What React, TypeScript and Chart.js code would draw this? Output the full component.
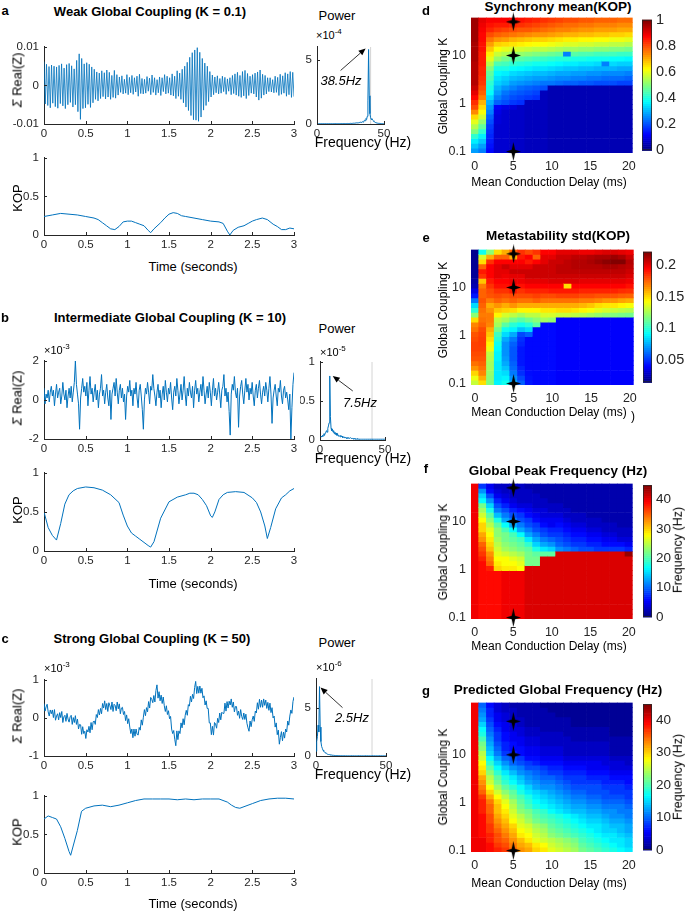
import React, { useEffect, useRef } from "react";
import { Chart, registerables } from "chart.js";

Chart.register(...registerables);

/* ======================= DATA ======================= */
const timeSpanS = 3;

// a: Σ Real(Z), K = 0.1 (units of 1e-3), successive half-cycle extremes
const sumRealA = [
  6.2,-4.8,5.5,-5.2,4.9,-5.8,5.3,-4.6,5.0,-5.5,
  4.8,-5.9,5.2,-4.7,5.6,-5.3,4.5,-6.0,5.4,-5.0,
  5.7,-4.4,5.1,-5.6,4.3,-5.0,6.5,-6.8,8.2,-8.8,
  7.0,-6.0,5.6,-5.8,5.9,-4.9,5.5,-5.7,4.8,-4.5,
  4.2,-3.6,3.5,-4.0,3.2,-3.4,3.8,-2.9,3.3,-3.5,
  4.0,-3.0,3.4,-3.6,2.6,-3.1,3.9,-3.3,2.8,-2.5,
  2.2,-1.8,2.5,-2.2,1.6,-2.0,2.8,-2.4,2.1,-1.9,
  2.6,-2.3,2.0,-1.7,2.4,-2.8,2.9,-2.1,1.8,-2.2,
  1.6,-2.0,2.3,-1.5,1.9,-2.4,2.7,-1.8,2.0,-2.5,
  1.5,-1.9,2.2,-2.6,2.0,-1.6,2.8,-2.2,2.4,-2.0,
  2.0,-2.5,3.0,-2.7,2.4,-3.4,3.8,-2.8,3.2,-3.6,
  4.2,-4.5,5.0,-5.6,6.0,-6.5,7.3,-7.8,8.5,-8.9,
  9.2,-9.0,9.8,-9.3,8.6,-8.2,7.0,-6.4,5.8,-5.2,
  5.0,-4.2,3.6,-3.0,2.7,-2.4,2.2,-1.9,2.5,-2.2,
  1.8,-2.0,2.4,-1.6,2.1,-2.3,1.7,-1.5,2.0,-2.4,
  2.6,-2.1,3.0,-2.5,3.4,-2.8,2.6,-3.1,3.6,-2.7,
  3.9,-3.4,3.1,-2.6,2.4,-2.0,2.8,-2.2,3.2,-3.0,
  3.5,-3.8,4.0,-3.3,2.9,-2.5,2.6,-2.2,2.0,-1.6,
  2.0,-1.7,1.5,-1.9,2.4,-1.8,2.1,-2.6,2.9,-2.3,
  2.5,-2.0,3.3,-2.8,3.0,-2.4,3.6,-3.1,3.4,-2.9,
];

// b: Σ Real(Z), K = 10 (units of 1e-3)
const sumRealB = [
  0.6,-0.2,0.3,0.1,0.5,-0.1,0.4,0.7,0.2,0.5,-0.3,0.3,0.8,0.1,0.4,0.6,-0.2,0.2,0.9,0.3,
  0.0,0.5,-0.4,0.2,0.6,0.1,0.7,-0.1,0.4,0.9,2.0,0.8,0.3,-0.2,-1.5,0.1,0.6,1.1,0.4,0.7,
  0.2,0.9,-0.3,0.5,1.2,0.3,0.6,-0.1,0.4,0.8,0.0,0.5,-0.4,0.3,0.6,1.3,0.2,0.5,-0.2,0.4,
  0.8,0.1,-0.3,0.5,-1.0,0.3,0.6,0.9,0.2,1.1,0.4,-0.2,0.5,0.8,0.1,0.6,-0.1,0.3,-1.0,0.2,
  0.7,0.4,1.0,0.2,0.5,-0.3,0.6,0.3,0.9,0.1,-0.4,0.5,0.8,0.2,-0.5,-1.5,0.0,0.6,0.3,0.9,
  0.4,-0.2,0.7,0.5,1.3,0.6,0.2,-0.3,0.4,0.8,0.1,0.5,-0.4,0.3,0.7,0.0,1.0,0.4,-0.1,0.6,
  0.3,0.9,0.1,-0.5,0.4,0.7,0.2,1.1,0.5,-0.2,0.3,0.8,0.0,0.5,1.2,0.3,-0.3,0.6,0.2,0.9,
  0.4,0.1,0.7,-0.4,0.5,1.0,0.3,0.6,-0.1,0.4,0.8,0.2,1.2,0.5,-0.2,0.3,0.7,0.1,0.9,0.4,
  -0.3,0.5,1.1,0.2,0.6,0.0,0.4,0.9,0.3,-0.4,0.5,0.7,1.3,0.2,0.6,-0.1,0.4,-0.6,-1.8,0.3,
  0.8,0.5,1.2,0.4,0.1,0.6,-1.4,0.2,0.7,1.0,0.3,-0.2,0.5,1.1,0.4,0.8,0.0,0.6,0.3,0.9,
  0.2,-0.3,0.5,0.8,0.1,0.6,1.0,0.3,-0.2,0.4,0.7,0.2,0.9,0.5,-0.1,0.6,1.2,0.3,-1.2,0.1,
  0.5,0.8,0.2,-0.3,0.6,0.4,1.0,0.2,-0.2,0.5,0.7,0.1,0.4,0.0,-0.5,0.3,-2.0,-0.4,0.8,1.4,
];

// c: Σ Real(Z), K = 50 (units of 1e-3)
const sumRealC = [
  0.38,0.18,0.29,0.36, 0.16,0.05,0.21,0.11, 0.21,0.01,0.22,-0.06, 0.05,0.11,-0.05,0.14,
  0.01,0.17,-0.12,0.03, 0.07,-0.09,0.12,-0.03, -0.11,0.03,0.07,-0.17, 0.01,-0.12,0.06,-0.17,
  -0.03,-0.29,-0.17,-0.18, -0.43,-0.23,-0.41,-0.35, -0.54,-0.31,-0.37,-0.22, -0.39,-0.12,-0.31,-0.10,
  -0.08,-0.17,0.09,0.01, 0.22,0.08,0.25,0.11, 0.38,0.26,0.45,0.22, 0.38,0.17,0.40,0.32,
  0.22,0.42,0.17,0.36, 0.33,0.19,0.42,0.24, 0.37,0.11,0.26,0.28, 0.09,0.17,-0.07,0.08,
  -0.15,-0.02,-0.24,-0.41, -0.29,-0.52,-0.29,-0.48, -0.29,-0.43,-0.45,-0.25, -0.32,-0.05,-0.19,0.02,
  0.22,0.06,0.27,0.16, 0.43,0.26,0.54,0.49, 0.40,0.59,0.42,0.72, 0.87,0.52,0.69,0.45,
  0.60,0.38,0.55,0.32, 0.17,0.32,0.09,0.19, -0.02,0.04,-0.29,-0.41, -0.33,-0.56,-0.73,-0.34,
  -0.57,-0.34,-0.41,-0.13, -0.26,-0.02,-0.18,0.07, 0.20,0.07,0.35,0.31, 0.57,0.42,0.62,0.51,
  0.80,0.96,0.64,0.83, 0.65,0.84,0.65,0.78, 0.53,0.58,0.34,0.45, 0.25,0.25,-0.13,-0.13,
  -0.44,-0.22,-0.45,-0.12, -0.16,-0.27,-0.01,-0.12, 0.13,-0.05,0.15,0.12, 0.12,0.39,0.18,0.43,
  0.26,0.44,0.34,0.50, 0.28,0.42,0.16,0.30, 0.30,0.07,0.18,-0.01, 0.22,0.04,-0.04,0.13,
  -0.04,0.10,-0.14,-0.26, -0.35,-0.08,-0.23,-0.05, 0.05,-0.09,0.18,0.13, 0.40,0.23,0.49,0.28,
  0.47,0.28,0.50,0.33, 0.47,0.25,0.41,0.20, 0.39,0.14,0.27,0.00, 0.05,-0.24,-0.13,-0.44,
  -0.32,-0.69,-0.51,-0.36, -0.60,-0.37,-0.53,-0.29, -0.37,-0.08,-0.19,0.05, 0.21,0.12,0.43,0.55,
];

// KOP time courses
const kopATime = [0,0.1,0.2,0.3,0.4,0.5,0.6,0.65,0.7,0.75,0.8,0.85,0.9,0.95,1.0,1.05,1.1,1.15,1.2,1.25,1.28,1.32,1.4,1.45,1.5,1.55,1.6,1.65,1.7,1.8,1.9,2.0,2.1,2.15,2.2,2.23,2.27,2.33,2.4,2.45,2.5,2.55,2.62,2.68,2.75,2.8,2.85,2.9,2.95,3.0];
const kopAVal = [0.24,0.26,0.28,0.27,0.26,0.24,0.22,0.2,0.16,0.12,0.08,0.07,0.11,0.17,0.18,0.18,0.16,0.14,0.12,0.06,0.03,0.08,0.16,0.22,0.27,0.29,0.28,0.25,0.24,0.22,0.2,0.18,0.17,0.15,0.05,0.0,0.06,0.1,0.12,0.15,0.18,0.2,0.22,0.2,0.14,0.11,0.07,0.07,0.09,0.08];

const kopBTime = [0,0.05,0.1,0.15,0.2,0.25,0.3,0.35,0.4,0.5,0.6,0.7,0.8,0.9,0.95,1.0,1.05,1.1,1.15,1.2,1.25,1.28,1.32,1.4,1.5,1.6,1.7,1.75,1.8,1.85,1.9,1.95,2.0,2.02,2.05,2.1,2.15,2.2,2.3,2.4,2.5,2.55,2.6,2.65,2.68,2.72,2.78,2.85,2.9,2.95,3.0];
const kopBVal = [0.5,0.3,0.2,0.14,0.35,0.6,0.72,0.77,0.8,0.82,0.81,0.78,0.72,0.62,0.46,0.32,0.23,0.19,0.15,0.11,0.07,0.05,0.12,0.42,0.63,0.69,0.72,0.74,0.74,0.72,0.66,0.58,0.45,0.43,0.5,0.66,0.72,0.75,0.76,0.75,0.68,0.62,0.5,0.32,0.16,0.3,0.54,0.68,0.72,0.77,0.8];

const kopCTime = [0,0.05,0.1,0.15,0.2,0.25,0.3,0.32,0.35,0.4,0.45,0.5,0.6,0.7,0.8,0.9,1.0,1.1,1.2,1.3,1.4,1.5,1.6,1.7,1.8,1.9,2.0,2.1,2.2,2.25,2.3,2.35,2.4,2.5,2.6,2.7,2.8,2.9,3.0];
const kopCVal = [0.7,0.74,0.72,0.7,0.6,0.45,0.28,0.23,0.35,0.55,0.8,0.84,0.87,0.88,0.86,0.88,0.91,0.94,0.96,0.96,0.96,0.96,0.95,0.96,0.95,0.96,0.96,0.96,0.92,0.88,0.85,0.84,0.86,0.9,0.94,0.96,0.97,0.97,0.96];

// Power spectra, 0.5 Hz bins from 0 to 50 Hz
const freqStepHz = 0.5;
const powerA = [ // ×1e-4
  0.02,0.03,0.02,0.03,0.02,0.02,0.03,0.02,0.02,0.03,
  0.02,0.02,0.03,0.02,0.02,0.03,0.02,0.02,0.03,0.02,
  0.02,0.03,0.02,0.02,0.03,0.02,0.03,0.02,0.02,0.03,
  0.03,0.02,0.03,0.03,0.02,0.03,0.04,0.03,0.03,0.04,
  0.03,0.04,0.03,0.04,0.04,0.03,0.05,0.04,0.04,0.05,
  0.05,0.04,0.06,0.05,0.06,0.07,0.06,0.08,0.07,0.09,
  0.08,0.1,0.09,0.12,0.1,0.14,0.12,0.16,0.18,0.15,
  0.22,0.3,0.26,0.42,0.35,0.6,1.8,5.8,2.2,0.8,
  0.5,0.35,0.42,0.3,0.25,0.2,0.16,0.12,0.1,0.08,
  0.07,0.06,0.05,0.05,0.04,0.04,0.03,0.03,0.03,0.02,0.02,
];
const powerB = [ // ×1e-5
  0.02,0.03,0.05,0.04,0.06,0.05,0.08,0.06,0.09,0.1,
  0.12,0.1,0.15,0.18,0.22,0.82,0.3,0.15,0.12,0.14,
  0.1,0.12,0.08,0.1,0.07,0.09,0.06,0.08,0.05,0.06,
  0.05,0.04,0.06,0.04,0.05,0.03,0.04,0.03,0.04,0.03,
  0.03,0.02,0.03,0.02,0.03,0.02,0.02,0.03,0.02,0.02,
  0.02,0.02,0.01,0.02,0.01,0.02,0.01,0.01,0.02,0.01,
  0.01,0.01,0.01,0.01,0.01,0.01,0.01,0.01,0.01,0.01,
  0.01,0.01,0.01,0.01,0.01,0.01,0.01,0.01,0.01,0.01,
  0.01,0.01,0.01,0.01,0.01,0.01,0.01,0.01,0.01,0.01,
  0.01,0.01,0.01,0.01,0.01,0.01,0.01,0.01,0.01,0.01,0.01,
];
const powerC = [ // ×1e-6
  0.5,1.5,2.0,3.2,2.5,7.2,3.0,1.5,1.0,0.8,
  0.6,0.5,0.4,0.35,0.3,0.25,0.2,0.2,0.15,0.15,
  0.12,0.1,0.1,0.08,0.08,0.07,0.06,0.06,0.05,0.05,
  0.05,0.04,0.04,0.04,0.03,0.03,0.03,0.03,0.03,0.03,
  0.02,0.02,0.02,0.02,0.02,0.02,0.02,0.02,0.02,0.02,
  0.02,0.02,0.02,0.02,0.02,0.02,0.02,0.02,0.02,0.02,
  0.02,0.02,0.02,0.02,0.02,0.02,0.02,0.02,0.02,0.02,
  0.02,0.02,0.02,0.02,0.02,0.02,0.02,0.02,0.02,0.02,
  0.02,0.02,0.02,0.02,0.02,0.02,0.02,0.02,0.02,0.02,
  0.02,0.02,0.02,0.02,0.02,0.02,0.02,0.02,0.02,0.02,0.02,
];
const referenceFreqHz = 40;

// Parameter space
const delaysMs = [0,1,2,3,4,5,6,7,8,9,10,11,12,13,14,15,16,17,18,19,20];
const logKMin = -1.03;
const logKRowStep = 0.1007;
const markerDelayMs = 5;
const markerK = [0.1, 10, 50];

// d: Synchrony mean(KOP) ×100 ; one array per delay, rows from highest K to lowest K
const syncMeanByDelay = [
  [97,97,97,97,97,96,96,96,96,95,95,95,95,95,93,90,87,83,80,74,66,60,55,50,42,36,32,28],
  [90,89,88,87,87,86,86,85,85,85,84,84,83,82,80,78,75,70,66,62,58,52,47,42,36,32,28,25],
  [88,86,84,80,76,72,68,64,60,55,50,47,45,42,40,38,34,30,27,25,22,20,18,17,16,15,14,13],
  [88,85,82,78,73,67,62,57,52,45,40,37,35,33,30,28,25,22,12,10,9,9,8,8,8,8,8,8],
  [88,85,81,77,72,66,60,55,49,44,40,36,33,31,27,24,22,20,10,8,8,8,8,8,8,8,8,8],
  [87,84,80,76,70,65,59,53,47,42,38,34,31,28,25,22,20,18,9,7,7,7,7,7,7,7,7,7],
  [86,83,79,75,69,64,58,52,46,41,37,33,30,27,23,21,19,17,7,7,7,7,7,7,7,7,7,7],
  [85,82,79,74,68,63,57,51,45,40,36,32,29,26,22,20,18,6,6,6,6,6,6,6,6,6,6,6],
  [84,81,78,73,67,62,56,50,44,39,35,31,28,25,21,19,17,6,6,6,6,6,6,6,6,6,6,6],
  [83,80,77,73,67,62,56,49,43,39,35,31,28,24,20,6,6,6,6,6,6,6,6,6,6,6,6,6],
  [82,79,76,72,66,61,55,48,42,38,34,30,27,24,5,5,5,5,5,5,5,5,5,5,5,5,5,5],
  [81,78,75,71,65,60,54,47,41,37,33,29,26,23,5,5,5,5,5,5,5,5,5,5,5,5,5,5],
  [80,77,75,70,64,59,53,25,41,36,32,29,26,22,5,5,5,5,5,5,5,5,5,5,5,5,5,5],
  [80,77,74,70,64,59,53,46,40,36,32,28,25,22,5,5,5,5,5,5,5,5,5,5,5,5,5,5],
  [79,76,73,69,63,58,52,45,40,35,31,28,25,21,5,5,5,5,5,5,5,5,5,5,5,5,5,5],
  [79,76,73,69,63,58,52,45,39,35,31,27,24,21,5,5,5,5,5,5,5,5,5,5,5,5,5,5],
  [78,75,72,68,62,57,51,44,39,34,30,27,24,20,5,5,5,5,5,5,5,5,5,5,5,5,5,5],
  [78,75,72,68,62,57,51,44,39,25,30,26,23,20,5,5,5,5,5,5,5,5,5,5,5,5,5,5],
  [78,75,72,67,61,56,50,44,38,34,30,26,23,20,5,5,5,5,5,5,5,5,5,5,5,5,5,5],
  [77,74,71,67,61,56,50,43,38,33,29,26,23,19,5,5,5,5,5,5,5,5,5,5,5,5,5,5],
  [77,74,71,66,60,55,49,43,37,33,29,25,22,19,5,5,5,5,5,5,5,5,5,5,5,5,5,5],
];

// e: Metastability std(KOP) ×1000 ; one array per delay, rows from highest K to lowest K
const metaStdByDelay = [
  [18,18,19,19,20,20,22,25,35,45,65,85,100,120,150,168,172,178,180,182,182,180,178,172,165,152,140,132],
  [95,135,150,175,190,185,155,170,175,175,178,175,172,170,172,175,180,182,183,183,182,180,178,175,172,168,160,150],
  [120,160,185,195,195,195,190,185,180,178,170,160,165,170,170,168,160,155,150,145,140,130,128,125,125,122,120,118],
  [150,175,195,200,200,200,195,192,185,180,175,165,155,145,130,125,115,105,100,95,92,90,90,88,88,88,88,90],
  [160,175,195,205,200,198,195,192,185,178,172,160,152,135,125,110,95,85,75,70,70,70,72,75,80,85,90,95],
  [175,160,195,200,205,200,198,195,190,180,175,165,150,130,115,100,90,75,65,60,58,58,58,60,62,65,70,75],
  [185,190,195,200,205,200,198,192,185,180,172,160,145,125,110,95,80,55,50,48,45,45,45,45,48,50,55,60],
  [180,195,190,200,205,205,200,195,188,180,172,160,145,130,115,100,85,60,42,42,42,42,42,42,42,43,44,45],
  [185,175,195,205,205,205,200,195,188,182,175,160,145,130,120,110,42,42,42,42,42,42,42,42,42,42,42,42],
  [195,200,200,205,205,205,200,195,188,180,172,160,148,135,125,42,42,42,42,42,42,42,42,42,42,42,42,42],
  [195,200,205,205,205,205,202,195,190,180,172,160,148,135,122,42,42,42,42,42,42,42,42,42,42,42,42,42],
  [200,205,205,208,208,205,202,195,190,182,172,160,150,132,40,40,40,40,40,40,40,40,40,40,40,40,40,40],
  [200,205,208,208,208,205,202,150,190,182,172,160,150,132,40,40,40,40,40,40,40,40,40,40,40,40,40,40],
  [200,208,210,210,208,205,202,195,190,182,172,160,148,130,40,40,40,40,40,40,40,40,40,40,40,40,40,40],
  [198,208,210,210,208,205,200,195,188,180,170,158,145,128,40,40,40,40,40,40,40,40,40,40,40,40,40,40],
  [198,210,212,210,208,205,200,195,188,180,170,155,142,125,40,40,40,40,40,40,40,40,40,40,40,40,40,40],
  [200,212,215,210,208,205,200,195,188,178,168,150,138,122,40,40,40,40,40,40,40,40,40,40,40,40,40,40],
  [202,212,218,212,208,205,200,195,188,178,165,148,135,120,40,40,40,40,40,40,40,40,40,40,40,40,40,40],
  [202,215,220,212,208,205,200,195,188,178,165,148,132,118,40,40,40,40,40,40,40,40,40,40,40,40,40,40],
  [200,212,220,210,208,205,200,195,186,176,162,145,130,116,40,40,40,40,40,40,40,40,40,40,40,40,40,40],
  [198,205,210,208,205,202,198,192,185,175,160,142,128,115,40,40,40,40,40,40,40,40,40,40,40,40,40,40],
];

// f: Global peak frequency (Hz) ; one array per K row from lowest K (0.1) upwards, columns = delays
const peakFreqByK = [
  [40,39,39,39,40,40,40,41,41,41,41,41,41,41,41,41,41,41,41,41,41],
  [40,39,39,39,40,40,40,41,41,41,41,41,41,41,41,41,41,41,41,41,41],
  [40,39,39,39,40,40,40,41,41,41,41,41,41,41,41,41,41,41,41,41,41],
  [40,39,39,39,40,40,40,41,41,41,41,41,41,41,41,41,41,41,41,41,41],
  [40,39,39,39,40,40,40,41,41,41,41,41,41,41,41,41,41,41,41,41,41],
  [40,39,39,39,40,40,40,41,41,41,41,41,41,41,41,41,41,41,41,41,41],
  [40,39,39,39,40,40,40,41,41,41,41,41,41,41,41,41,41,41,41,41,41],
  [40,39,39,39,40,40,40,41,41,41,41,41,41,41,41,41,41,41,41,41,41],
  [40,39,39,39,40,40,40,41,41,41,41,41,41,41,41,41,41,41,41,41,41],
  [40,39,39,39,40,40,40,41,41,41,41,41,41,41,41,41,41,41,41,41,41],
  [40,39,38,30,29,29,28,41,41,41,41,41,41,41,41,41,41,41,41,41,41],
  [40,39,35,29,28,28,27,22,22,41,41,41,41,41,41,41,41,41,41,41,41],
  [40,38,34,28,28,27,26,22,22,41,41,41,41,41,41,41,41,41,41,41,41],
  [40,37,33,27,26,25,24,22,21,21,21,41,41,41,41,41,41,41,41,41,44],
  [40,36,31,26,24,23,22,21,18,16,15,12,11,10,9,9,8,8,8,8,7],
  [40,35,30,25,23,22,21,19,15,13,12,10,9,8,8,7,7,6,6,6,5],
  [40,33,29,24,22,21,20,16,13,11,10,9,8,7,7,6,6,5,5,4,4],
  [40,32,28,23,22,20,17,13,11,9,8,8,7,6,6,5,5,4,4,3,3],
  [40,30,27,23,20,17,13,11,9,8,7,7,6,5,5,4,4,3,3,3,3],
  [40,30,25,21,17,13,11,9,8,6,5,6,5,4,4,3,3,3,3,2,2],
  [40,28,23,18,13,11,9,8,6,5,5,5,4,3,3,3,3,2,2,2,2],
  [40,26,21,14,11,9,8,6,5,4,4,4,3,3,3,2,2,2,2,2,2],
  [40,24,18,11,9,7,6,5,4,4,3,3,3,2,2,2,2,2,2,2,2],
  [40,22,15,9,7,5,4,4,3,3,3,3,2,2,2,2,2,2,2,2,2],
  [40,17,12,7,5,4,3,3,3,3,2,2,2,2,2,2,2,2,2,2,2],
  [40,15,9,5,4,3,3,3,3,2,2,2,2,2,2,2,2,2,2,2,2],
  [40,12,6,4,3,3,3,3,2,2,2,2,2,2,2,2,2,2,2,2,2],
  [40,8,5,3,3,3,3,2,2,2,2,2,2,2,2,2,2,2,2,2,2],
];

// g: Predicted global frequency (Hz) ; one array per K row from lowest K upwards (wider K range)
const predFreqByK = [
  [40,40,39,38,37,35,33,32,30,29,27,26,25,24,22,21,20,19,18,17,16],
  [40,40,39,37,36,34,32,31,29,28,26,25,24,23,21,20,19,18,17,16,15],
  [40,40,38,36,35,33,31,29,27,26,25,24,23,22,20,19,18,17,16,16,15],
  [40,39,38,36,34,32,29,28,26,25,23,22,21,20,19,18,17,16,16,15,14],
  [40,39,37,35,33,31,28,27,25,24,22,21,20,19,18,17,16,15,15,14,13],
  [40,39,37,34,32,30,27,26,24,23,21,20,19,18,17,16,16,15,14,14,13],
  [40,39,36,33,31,28,26,24,22,21,20,19,18,17,16,15,15,14,13,13,12],
  [40,39,36,32,30,27,25,23,21,20,19,18,17,16,15,14,14,13,12,12,11],
  [40,38,35,31,29,26,23,22,20,19,17,16,15,14,14,13,13,12,12,11,11],
  [40,38,35,31,28,25,22,20,18,17,16,15,14,13,13,12,12,11,11,11,10],
  [40,38,34,30,27,24,21,19,17,16,15,14,13,12,12,11,11,10,10,10,9],
  [40,37,32,28,25,22,20,18,16,15,14,13,12,11,11,10,10,9,9,9,8],
  [40,35,30,26,23,21,18,16,15,14,13,12,11,10,10,9,9,9,8,8,8],
  [40,34,28,24,21,19,17,15,13,12,12,11,10,9,9,9,9,8,8,8,7],
  [40,33,26,22,19,17,15,13,12,11,11,10,9,8,8,8,8,7,7,7,6],
  [40,32,25,21,18,16,14,12,11,10,10,9,8,8,8,7,7,7,6,6,6],
  [40,30,23,19,16,14,12,11,10,9,8,8,7,7,7,6,6,6,5,5,5],
  [40,29,21,17,14,12,11,9,9,8,7,7,6,6,6,5,5,5,4,4,4],
  [40,28,19,15,12,10,9,8,7,6,6,6,5,5,5,5,5,4,4,4,3],
  [40,26,17,13,10,9,8,6,6,5,5,5,4,4,4,4,4,4,3,3,3],
  [40,25,15,11,8,7,6,5,5,4,4,4,3,3,3,3,3,3,2,2,2],
  [40,23,14,10,7,6,6,5,5,4,4,4,3,3,3,3,3,3,2,2,2],
  [40,22,13,9,7,6,5,4,4,3,3,3,3,3,3,3,3,3,2,2,2],
  [40,20,12,8,6,5,5,4,4,3,3,3,3,2,2,2,2,2,2,2,2],
  [40,18,11,8,6,5,4,3,3,3,3,3,2,2,2,2,2,2,1,1,1],
  [40,17,10,7,5,4,4,3,3,2,2,2,2,2,2,2,2,2,1,1,1],
  [40,15,9,6,5,4,3,2,2,2,2,2,2,1,1,1,1,1,1,1,1],
  [40,13,8,5,4,3,3,2,2,2,2,2,2,1,1,1,1,1,1,1,1],
  [40,12,7,5,4,3,2,2,2,2,2,1,1,1,1,1,1,1,1,1,1],
  [40,11,7,4,3,3,2,2,2,2,1,1,1,1,1,1,1,1,1,1,1],
  [40,10,6,4,3,2,2,2,2,1,1,1,1,1,1,1,1,1,1,1,1],
];

/* ======================= STYLE ======================= */
const FONT = '"Liberation Sans", Arial, Helvetica, sans-serif';
const LINE_BLUE = "#0072BD";
const AXIS = "#262626";

const jet = (t: number): string => {
  const c = Math.max(0, Math.min(1, t));
  const ch = (o: number) => Math.round(255 * Math.max(0, Math.min(1, 1.5 - Math.abs(4 * c - o))));
  return `rgb(${ch(3)},${ch(2)},${ch(1)})`;
};

type Rect = { x0: number; y0: number; x1: number; y1: number };
type Frame = { rect: Rect; yW: number; xH: number; pt: number; pb: number; pl: number; pr: number; yRight?: boolean };

const inTicks = {
  id: "inTicks",
  afterDraw(chart: any, _a: any, opts: any) {
    if (!opts || !opts.len) return;
    const { ctx, chartArea: a } = chart;
    ctx.save();
    ctx.strokeStyle = AXIS;
    ctx.lineWidth = 1;
    const xs = chart.scales.x;
    const ys = chart.scales.y;
    xs.ticks.forEach((t: any) => {
      const px = Math.round(xs.getPixelForValue(t.value)) + 0.5;
      ctx.beginPath();
      ctx.moveTo(px, a.bottom);
      ctx.lineTo(px, a.bottom - opts.len);
      ctx.stroke();
    });
    ys.ticks.forEach((t: any) => {
      const py = Math.round(ys.getPixelForValue(t.value)) + 0.5;
      ctx.beginPath();
      ctx.moveTo(a.left, py);
      ctx.lineTo(a.left + opts.len, py);
      ctx.stroke();
    });
    ctx.restore();
  },
};

const peakArrow = {
  id: "peakArrow",
  afterDatasetsDraw(chart: any, _a: any, opts: any) {
    if (!opts || opts.x == null) return;
    const { ctx } = chart;
    const tx = chart.scales.x.getPixelForValue(opts.x) + opts.tipDx;
    const ty = chart.scales.y.getPixelForValue(opts.y) + opts.tipDy;
    const sx = tx + opts.tailDx;
    const sy = ty + opts.tailDy;
    const ang = Math.atan2(ty - sy, tx - sx);
    const hl = 7;
    const hw = 3;
    ctx.save();
    ctx.strokeStyle = "#000";
    ctx.fillStyle = "#000";
    ctx.lineWidth = 0.8;
    ctx.beginPath();
    ctx.moveTo(sx, sy);
    ctx.lineTo(tx - hl * Math.cos(ang), ty - hl * Math.sin(ang));
    ctx.stroke();
    ctx.beginPath();
    ctx.moveTo(tx, ty);
    ctx.lineTo(tx - hl * Math.cos(ang) + hw * Math.sin(ang), ty - hl * Math.sin(ang) - hw * Math.cos(ang));
    ctx.lineTo(tx - hl * Math.cos(ang) - hw * Math.sin(ang), ty - hl * Math.sin(ang) + hw * Math.cos(ang));
    ctx.closePath();
    ctx.fill();
    ctx.restore();
  },
};

const colorbarFill = {
  id: "colorbarFill",
  beforeDatasetsDraw(chart: any, _a: any, opts: any) {
    if (!opts || opts.vmin == null) return;
    const { ctx, chartArea: a } = chart;
    const ys = chart.scales.y;
    const n = 64;
    ctx.save();
    for (let i = 0; i < n; i++) {
      const v0 = opts.vmin + ((opts.vmax - opts.vmin) * i) / n;
      const v1 = opts.vmin + ((opts.vmax - opts.vmin) * (i + 1)) / n;
      const p0 = ys.getPixelForValue(v0);
      const p1 = ys.getPixelForValue(v1);
      ctx.fillStyle = jet((i + 0.5) / n);
      ctx.fillRect(a.left, p1, a.right - a.left, p0 - p1 + 0.6);
    }
    ctx.strokeStyle = AXIS;
    ctx.lineWidth = 0.8;
    ctx.strokeRect(a.left + 0.5, a.top + 0.5, a.right - a.left - 1, a.bottom - a.top - 1);
    ctx.restore();
  },
};

function ChartCanvas({ frame, build }: { frame: Frame; build: () => any }) {
  const ref = useRef<HTMLCanvasElement>(null);
  const { rect, yW, xH, pt, pb, pl, pr, yRight } = frame;
  const w = Math.round(pl + yW + (rect.x1 - rect.x0) + pr);
  const h = Math.round(pt + (rect.y1 - rect.y0) + xH + pb);
  const left = rect.x0 - pl - (yRight ? 0 : yW);
  const top = rect.y0 - pt;
  useEffect(() => {
    const cfg = build();
    cfg.options = cfg.options || {};
    cfg.options.animation = false;
    cfg.options.responsive = false;
    cfg.options.maintainAspectRatio = false;
    cfg.options.devicePixelRatio = 1;
    cfg.options.layout = { padding: { left: pl, right: pr, top: pt, bottom: pb } };
    const chart = new Chart(ref.current as HTMLCanvasElement, cfg);
    return () => chart.destroy();
  }, []);
  return <canvas ref={ref} width={w} height={h} style={{ position: "absolute", left, top, width: w, height: h }} />;
}

function axis(o: {
  min: number; max: number; ticks: number[]; fmt?: (v: number) => string; size: number; pad: number;
  fit: (s: any) => void; position?: string; border?: boolean; display?: boolean;
}) {
  return {
    type: "linear",
    position: o.position,
    display: o.display === false ? false : true,
    min: o.min,
    max: o.max,
    offset: false,
    afterBuildTicks: (s: any) => { s.ticks = o.ticks.map((v) => ({ value: v })); },
    afterFit: o.fit,
    grid: { display: false, drawTicks: false },
    border: { display: o.border !== false, color: AXIS, width: 1 },
    ticks: {
      color: AXIS,
      font: { family: FONT, size: o.size },
      padding: o.pad,
      autoSkip: false,
      maxRotation: 0,
      minRotation: 0,
      callback: (v: number) => (o.fmt ? o.fmt(v) : String(v)),
    },
  };
}

const timeTicks = [0, 0.5, 1, 1.5, 2, 2.5, 3];
const lineFrame = (r: Rect): Frame => ({ rect: r, yW: 40, xH: 18, pt: 8, pb: 2, pl: 2, pr: 8 });
const powFrame = (r: Rect): Frame => ({ rect: r, yW: 20, xH: 18, pt: 8, pb: 2, pl: 0, pr: 10 });

function timeSeries(values: number[]) {
  const n = values.length;
  return values.map((v, i) => ({ x: (i * timeSpanS) / (n - 1), y: v }));
}

function lineConfig(f: Frame, points: { x: number; y: number }[], ymin: number, ymax: number, yTicks: number[], yFmt?: (v: number) => string, width = 1) {
  return () => ({
    type: "line",
    data: { datasets: [{ data: points, borderColor: LINE_BLUE, borderWidth: width, pointRadius: 0, tension: 0, fill: false }] },
    plugins: [inTicks],
    options: {
      plugins: { legend: { display: false }, tooltip: { enabled: false }, inTicks: { len: 3 } },
      scales: {
        x: axis({ min: 0, max: timeSpanS, ticks: timeTicks, size: 11.5, pad: 3, fit: (s: any) => { s.height = f.xH; } }),
        y: axis({ min: ymin, max: ymax, ticks: yTicks, fmt: yFmt, size: 11.5, pad: 5, fit: (s: any) => { s.width = f.yW; } }),
      },
    },
  });
}

function powerConfig(f: Frame, power: number[], ymax: number, yTicks: number[], arrow: any) {
  return () => {
    const pts = power.map((v, i) => ({ x: i * freqStepHz, y: v }));
    let mi = 0;
    power.forEach((v, i) => { if (v > power[mi]) mi = i; });
    return {
      type: "line",
      data: {
        datasets: [
          { data: pts, borderColor: LINE_BLUE, borderWidth: 1, pointRadius: 0, tension: 0, order: 0 },
          { data: [{ x: referenceFreqHz, y: 0 }, { x: referenceFreqHz, y: ymax }], borderColor: "#d4d4d4", borderWidth: 1, pointRadius: 0, order: 1 },
        ],
      },
      plugins: [inTicks, peakArrow],
      options: {
        plugins: {
          legend: { display: false }, tooltip: { enabled: false }, inTicks: { len: 3 },
          peakArrow: { x: mi * freqStepHz, y: power[mi], ...arrow },
        },
        scales: {
          x: axis({ min: 0, max: 50, ticks: [0, 50], size: 11.5, pad: 3, fit: (s: any) => { s.height = f.xH; } }),
          y: axis({ min: 0, max: ymax, ticks: yTicks, size: 11.5, pad: 5, fit: (s: any) => { s.width = f.yW; } }),
        },
      },
    };
  };
}

function makeStar(): HTMLCanvasElement {
  const c = document.createElement("canvas");
  c.width = 15;
  c.height = 19;
  const ctx = c.getContext("2d") as CanvasRenderingContext2D;
  const cx = 7.5, cy = 9.5, i = 1.7;
  ctx.fillStyle = "#000";
  ctx.beginPath();
  ctx.moveTo(cx, 0);
  ctx.lineTo(cx + i, cy - i);
  ctx.lineTo(15, cy);
  ctx.lineTo(cx + i, cy + i);
  ctx.lineTo(cx, 19);
  ctx.lineTo(cx - i, cy + i);
  ctx.lineTo(0, cy);
  ctx.lineTo(cx - i, cy - i);
  ctx.closePath();
  ctx.fill();
  return c;
}

function heatConfig(f: Frame, valueAt: (c: number, r: number) => number, rows: number, vmin: number, vmax: number) {
  return () => {
    const maxLog = logKMin + rows * logKRowStep;
    const pts: any[] = [];
    const cols: string[] = [];
    delaysMs.forEach((d, c) => {
      for (let r = 0; r < rows; r++) {
        const lo = logKMin + r * logKRowStep;
        pts.push({ x: d, y: [lo, lo + logKRowStep] });
        cols.push(jet((valueAt(c, r) - vmin) / (vmax - vmin)));
      }
    });
    const star = makeStar();
    return {
      type: "bar",
      data: {
        datasets: [
          { type: "scatter", data: markerK.map((k) => ({ x: markerDelayMs, y: Math.log10(k) })), pointStyle: star, pointRadius: 8, clip: false, order: 0 },
          { type: "bar", data: pts, backgroundColor: cols, borderWidth: 0, barPercentage: 1, categoryPercentage: 1, grouped: false, order: 1 },
        ],
      },
      options: {
        plugins: { legend: { display: false }, tooltip: { enabled: false } },
        scales: {
          x: axis({ min: -0.5, max: 20.5, ticks: [0, 5, 10, 15, 20], size: 12.5, pad: 6, border: false, fit: (s: any) => { s.height = f.xH; } }),
          y: axis({ min: logKMin, max: maxLog, ticks: [-1, 0, 1], size: 12.5, pad: 5, border: false, fmt: (v: number) => String(Math.round(Math.pow(10, v) * 10) / 10), fit: (s: any) => { s.width = f.yW; } }),
        },
      },
    };
  };
}

function colorbarConfig(f: Frame, vmin: number, vmax: number, ticks: number[], size: number) {
  return () => ({
    type: "line",
    data: { datasets: [{ data: [], borderWidth: 0, pointRadius: 0 }] },
    plugins: [colorbarFill],
    options: {
      plugins: { legend: { display: false }, tooltip: { enabled: false }, colorbarFill: { vmin, vmax } },
      scales: {
        x: axis({ min: 0, max: 1, ticks: [], size: 10, pad: 0, display: false, fit: (s: any) => { s.height = 0; } }),
        y: axis({ min: vmin, max: vmax, ticks, size, pad: 4, position: "right", border: false, fit: (s: any) => { s.width = f.yW; } }),
      },
    },
  });
}

/* ======================= LAYOUT ======================= */
const fr = {
  aTs: lineFrame({ x0: 44, y0: 43, x1: 294, y1: 124 }),
  aPow: powFrame({ x0: 317, y0: 43, x1: 384, y1: 124 }),
  aKop: lineFrame({ x0: 44, y0: 154, x1: 294, y1: 235 }),
  bTs: lineFrame({ x0: 44, y0: 357, x1: 294, y1: 439 }),
  bPow: powFrame({ x0: 320, y0: 358, x1: 385, y1: 440 }),
  bKop: lineFrame({ x0: 44, y0: 469, x1: 294, y1: 551 }),
  cTs: lineFrame({ x0: 44, y0: 676, x1: 294, y1: 756 }),
  cPow: powFrame({ x0: 316, y0: 675, x1: 386, y1: 756 }),
  cKop: lineFrame({ x0: 44, y0: 792, x1: 294, y1: 873 }),
};
const hmFrame = (r: Rect): Frame => ({ rect: r, yW: 30, xH: 24, pt: 12, pb: 2, pl: 0, pr: 8 });
const cbFrame = (r: Rect): Frame => ({ rect: r, yW: 34, xH: 0, pt: 10, pb: 10, pl: 2, pr: 2, yRight: true });
const hm = {
  d: hmFrame({ x0: 471, y0: 17, x1: 634, y1: 153 }),
  e: hmFrame({ x0: 471, y0: 249, x1: 635, y1: 385 }),
  f: hmFrame({ x0: 471, y0: 483, x1: 634, y1: 619 }),
  g: hmFrame({ x0: 471, y0: 702, x1: 634, y1: 852 }),
};
const cb = {
  d: cbFrame({ x0: 642, y0: 17, x1: 652, y1: 153 }),
  e: cbFrame({ x0: 643, y0: 249, x1: 652, y1: 385 }),
  f: cbFrame({ x0: 643, y0: 483, x1: 652, y1: 619 }),
  g: cbFrame({ x0: 643, y0: 702, x1: 652, y1: 852 }),
};

function T(p: { x: number; y: number; children: any; size?: number; bold?: boolean; italic?: boolean; rot?: boolean; left?: boolean }) {
  const tr = (p.left ? "translate(0,-50%)" : "translate(-50%,-50%)") + (p.rot ? " rotate(-90deg)" : "");
  return (
    <div style={{ position: "absolute", left: p.x, top: p.y, transform: tr, fontSize: p.size || 13, fontWeight: p.bold ? 700 : 400, fontStyle: p.italic ? "italic" : "normal", whiteSpace: "nowrap", lineHeight: 1, color: "#000" }}>
      {p.children}
    </div>
  );
}

const Exp = ({ x, y, e }: { x: number; y: number; e: string }) => (
  <T x={x} y={y} size={11} left>
    ×10<sup style={{ fontSize: 8, verticalAlign: 5 }}>{e}</sup>
  </T>
);

const SumReal = () => (<span><i>Σ</i> Real(Z)</span>);

export default function App() {
  const yFmtA = (v: number) => String(v / 1000);
  const topFirst = (cols: number[][], rows: number) => (c: number, r: number) => cols[c][rows - 1 - r];
  const byRow = (rowsArr: number[][]) => (c: number, r: number) => rowsArr[r][c];
  return (
    <div style={{ position: "absolute", left: 0, top: 0, width: 685, height: 912, background: "#fff", fontFamily: FONT, overflow: "hidden" }}>
      {/* ---------- a ---------- */}
      <T x={5} y={10} bold>a</T>
      <T x={150} y={11} bold>Weak Global Coupling (K = 0.1)</T>
      <ChartCanvas frame={fr.aTs} build={lineConfig(fr.aTs, timeSeries(sumRealA), -10, 10, [-10, 0, 10], yFmtA, 0.8)} />
      <T x={17} y={80} rot><SumReal /></T>
      <T x={337} y={15}>Power</T>
      <Exp x={316} y={34} e="-4" />
      <ChartCanvas frame={fr.aPow} build={powerConfig(fr.aPow, powerA, 6, [0, 5], { tipDx: -3, tipDy: -1, tailDx: -25, tailDy: 22 })} />
      <T x={341} y={80} italic>38.5Hz</T>
      <T x={363} y={142} size={14}>Frequency (Hz)</T>
      <ChartCanvas frame={fr.aKop} build={lineConfig(fr.aKop, kopATime.map((t, i) => ({ x: t, y: kopAVal[i] })), 0, 1, [0, 0.5, 1])} />
      <T x={17} y={198} rot>KOP</T>
      <T x={193} y={266}>Time (seconds)</T>

      {/* ---------- b ---------- */}
      <T x={5} y={317} bold>b</T>
      <T x={170} y={317} bold>Intermediate Global Coupling (K = 10)</T>
      <Exp x={44} y={349} e="-3" />
      <ChartCanvas frame={fr.bTs} build={lineConfig(fr.bTs, timeSeries(sumRealB), -2, 2, [-2, 0, 2])} />
      <T x={17} y={398} rot><SumReal /></T>
      <T x={337} y={328}>Power</T>
      <Exp x={320} y={351} e="-5" />
      <ChartCanvas frame={fr.bPow} build={powerConfig(fr.bPow, powerB, 1, [0, 0.5, 1], { tipDx: 3, tipDy: 0, tailDx: 20, tailDy: 15 })} />
      <T x={360} y={402} italic>7.5Hz</T>
      <T x={363} y={458} size={14}>Frequency (Hz)</T>
      <ChartCanvas frame={fr.bKop} build={lineConfig(fr.bKop, kopBTime.map((t, i) => ({ x: t, y: kopBVal[i] })), 0, 1, [0, 0.5, 1])} />
      <T x={17} y={510} rot>KOP</T>
      <T x={193} y={583}>Time (seconds)</T>

      {/* ---------- c ---------- */}
      <T x={5} y={638} bold>c</T>
      <T x={152} y={638} bold>Strong Global Coupling (K = 50)</T>
      <Exp x={44} y={667} e="-3" />
      <ChartCanvas frame={fr.cTs} build={lineConfig(fr.cTs, timeSeries(sumRealC), -1, 1, [-1, 0, 1])} />
      <T x={17} y={716} rot><SumReal /></T>
      <T x={337} y={642}>Power</T>
      <Exp x={316} y={666} e="-6" />
      <ChartCanvas frame={fr.cPow} build={powerConfig(fr.cPow, powerC, 8, [0, 5], { tipDx: 1, tipDy: 1, tailDx: 22, tailDy: 20 })} />
      <T x={352} y={717} italic>2.5Hz</T>
      <T x={363} y={774} size={14}>Frequency (Hz)</T>
      <ChartCanvas frame={fr.cKop} build={lineConfig(fr.cKop, kopCTime.map((t, i) => ({ x: t, y: kopCVal[i] })), 0, 1, [0, 0.5, 1])} />
      <T x={17} y={832} rot>KOP</T>
      <T x={193} y={903}>Time (seconds)</T>

      {/* ---------- d ---------- */}
      <T x={426} y={10} bold>d</T>
      <T x={558} y={7} bold size={13.5}>Synchrony mean(KOP)</T>
      <ChartCanvas frame={hm.d} build={heatConfig(hm.d, (c, r) => topFirst(syncMeanByDelay, 28)(c, r) / 100, 28, 0, 1)} />
      <ChartCanvas frame={cb.d} build={colorbarConfig(cb.d, 0, 1, [0, 0.2, 0.4, 0.6, 0.8, 1], 14.5)} />
      <T x={443} y={86} rot size={12}>Global Coupling K</T>
      <T x={549} y={182} size={12}>Mean Conduction Delay (ms)</T>

      {/* ---------- e ---------- */}
      <T x={426} y={237} bold>e</T>
      <T x={558} y={236} bold size={13.5}>Metastability std(KOP)</T>
      <ChartCanvas frame={hm.e} build={heatConfig(hm.e, (c, r) => topFirst(metaStdByDelay, 28)(c, r) / 1000, 28, 0.015, 0.2205)} />
      <ChartCanvas frame={cb.e} build={colorbarConfig(cb.e, 0.015, 0.2205, [0.05, 0.1, 0.15, 0.2], 14.5)} />
      <T x={443} y={310} rot size={12}>Global Coupling K</T>
      <T x={549} y={412} size={12}>Mean Conduction Delay (ms)</T>
      <T x={633} y={416} size={12}>)</T>

      {/* ---------- f ---------- */}
      <T x={426} y={468} bold>f</T>
      <T x={558} y={471} bold size={13.5}>Global Peak Frequency (Hz)</T>
      <ChartCanvas frame={hm.f} build={heatConfig(hm.f, byRow(peakFreqByK), 28, 0, 45)} />
      <ChartCanvas frame={cb.f} build={colorbarConfig(cb.f, 0, 45, [0, 10, 20, 30, 40], 13.5)} />
      <T x={443} y={552} rot size={12}>Global Coupling K</T>
      <T x={549} y={646} size={12}>Mean Conduction Delay (ms)</T>
      <T x={678} y={550} rot size={12.5}>Frequency (Hz)</T>

      {/* ---------- g ---------- */}
      <T x={426} y={690} bold>g</T>
      <T x={558} y={690} bold size={13.5}>Predicted Global Frequency (Hz)</T>
      <ChartCanvas frame={hm.g} build={heatConfig(hm.g, byRow(predFreqByK), 31, 0, 45)} />
      <ChartCanvas frame={cb.g} build={colorbarConfig(cb.g, 0, 45, [0, 10, 20, 30, 40], 13.5)} />
      <T x={443} y={777} rot size={12}>Global Coupling K</T>
      <T x={549} y={883} size={12}>Mean Conduction Delay (ms)</T>
      <T x={678} y={777} rot size={12.5}>Frequency (Hz)</T>
    </div>
  );
}
